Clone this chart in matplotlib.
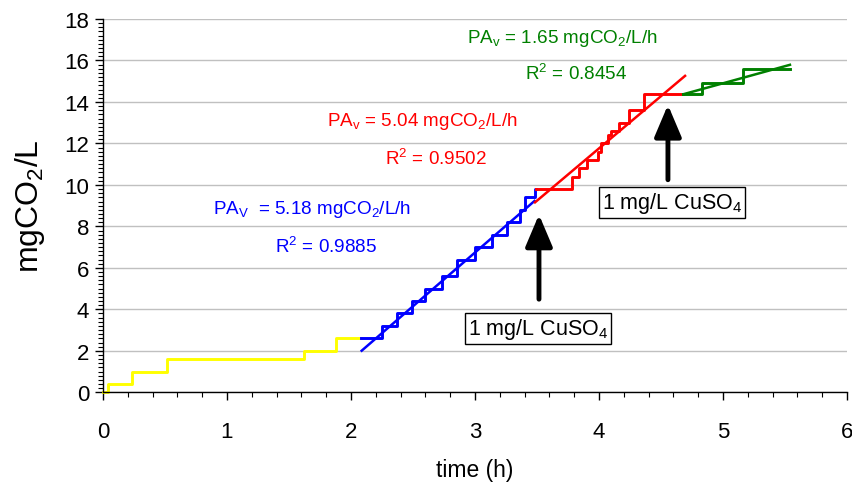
import matplotlib
matplotlib.use("Agg")
import matplotlib.pyplot as plt
from matplotlib.ticker import MultipleLocator

plt.rcParams['font.family'] = ['Liberation Sans', 'DejaVu Sans']
plt.rcParams['mathtext.fontset'] = 'custom'
plt.rcParams['mathtext.rm'] = 'Liberation Sans'
plt.rcParams['mathtext.default'] = 'regular'

# ---- data ----
yellow_t = [0, 0.043, 0.236, 0.52, 1.62, 1.88, 2.08]
yellow_y = [0, 0.4, 1.0, 1.6, 2.0, 2.6, 2.6]

blue_t = [2.08, 2.247, 2.368, 2.489, 2.597, 2.731, 2.852, 3.0, 3.135, 3.256, 3.363, 3.403, 3.484, 3.49]
blue_y = [2.6, 3.2, 3.8, 4.4, 5.0, 5.6, 6.4, 7.0, 7.6, 8.2, 8.8, 9.4, 9.8, 9.8]

red_t = [3.49, 3.785, 3.84, 3.90, 3.99, 4.02, 4.07, 4.10, 4.16, 4.245, 4.366, 4.68]
red_y = [9.8, 10.4, 10.8, 11.2, 11.6, 12.0, 12.4, 12.6, 13.0, 13.6, 14.4, 14.4]

green_t = [4.68, 4.83, 5.165, 5.54]
green_y = [14.4, 14.9, 15.6, 15.6]

# linear fits: slope, intercept, t range
blue_fit = (5.18, -8.80, 2.086, 3.48)
red_fit = (5.04, -8.40, 3.484, 4.694)
green_fit = (1.65, 6.65, 4.68, 5.54)

labels_blue = ["PA$_V$  = 5.18 mgCO$_2$/L/h", "R$^2$ = 0.9885"]
labels_red = ["PA$_v$ = 5.04 mgCO$_2$/L/h", "R$^2$ = 0.9502"]
labels_green = ["PA$_v$ = 1.65 mgCO$_2$/L/h", "R$^2$ = 0.8454"]
cuso4_label = "1 mg/L CuSO$_4$"
arrow1 = (3.516, 4.49, 8.57)
arrow2 = (4.556, 10.25, 13.86)

# ---- figure ----
fig = plt.figure(figsize=(8.53, 4.89), dpi=100)
ax = fig.add_axes([103/853, 1-393.3/489, (847-103)/853, (393.3-20)/489])

ax.set_xlim(0, 6)
ax.set_ylim(0, 18)
ax.xaxis.set_major_locator(MultipleLocator(1))
ax.xaxis.set_minor_locator(MultipleLocator(0.2))
ax.yaxis.set_major_locator(MultipleLocator(2))
ax.yaxis.set_minor_locator(MultipleLocator(0.2))
ax.grid(axis='y', which='major', color='#c0c0c0', lw=1)
ax.set_axisbelow(True)
for s in ['top', 'right']:
    ax.spines[s].set_visible(False)
for s in ['left', 'bottom']:
    ax.spines[s].set_linewidth(1)
ax.tick_params(which='major', direction='out', length=6, width=1, labelsize=16)
ax.tick_params(which='minor', direction='out', length=3.5, width=0.8)
ax.tick_params(axis='x', pad=15)
ax.tick_params(axis='y', pad=4)

lw = 2.1
ax.plot(yellow_t, yellow_y, drawstyle='steps-post', color='#ffff00', lw=lw, clip_on=False)
ax.plot(blue_t, blue_y, drawstyle='steps-post', color='#0000ff', lw=lw)
ax.plot(red_t, red_y, drawstyle='steps-post', color='#ff0000', lw=lw)
ax.plot(green_t, green_y, drawstyle='steps-post', color='#008000', lw=lw)

for (m, b, t0, t1), c in [(blue_fit, '#0000ff'), (red_fit, '#ff0000'), (green_fit, '#008000')]:
    ax.plot([t0, t1], [m*t0 + b, m*t1 + b], color=c, lw=1.8)

fs = 13.6
ax.text(0.887, 8.84, labels_blue[0], color='#0000ff', fontsize=fs, va='center', ha='left')
ax.text(1.39, 7.05, labels_blue[1], color='#0000ff', fontsize=fs, va='center', ha='left')
ax.text(1.806, 13.1, labels_red[0], color='#ff0000', fontsize=fs, va='center', ha='left')
ax.text(2.274, 11.3, labels_red[1], color='#ff0000', fontsize=fs, va='center', ha='left')
ax.text(2.935, 17.1, labels_green[0], color='#008000', fontsize=fs, va='center', ha='left')
ax.text(3.4, 15.4, labels_green[1], color='#008000', fontsize=fs, va='center', ha='left')

box = dict(boxstyle='square,pad=0.14', fc='white', ec='black', lw=1)
ax.text(3.508, 3.08, cuso4_label, fontsize=15.5, ha='center', va='center', bbox=box)
ax.text(4.589, 9.15, cuso4_label, fontsize=15.5, ha='center', va='center', bbox=box)

for (x, y0, y1) in [arrow1, arrow2]:
    ax.annotate('', xy=(x, y1), xytext=(x, y0),
                arrowprops=dict(arrowstyle='-|>,head_length=1.3,head_width=0.55',
                                mutation_scale=15, lw=3.5, color='black',
                                shrinkA=0, shrinkB=0))

ax.set_xlabel('time (h)', fontsize=16.5, labelpad=11)
ax.set_ylabel('mgCO$_2$/L', fontsize=23)
ax.yaxis.set_label_coords(-0.075, 0.5)

fig.savefig('out.png', dpi=100)
